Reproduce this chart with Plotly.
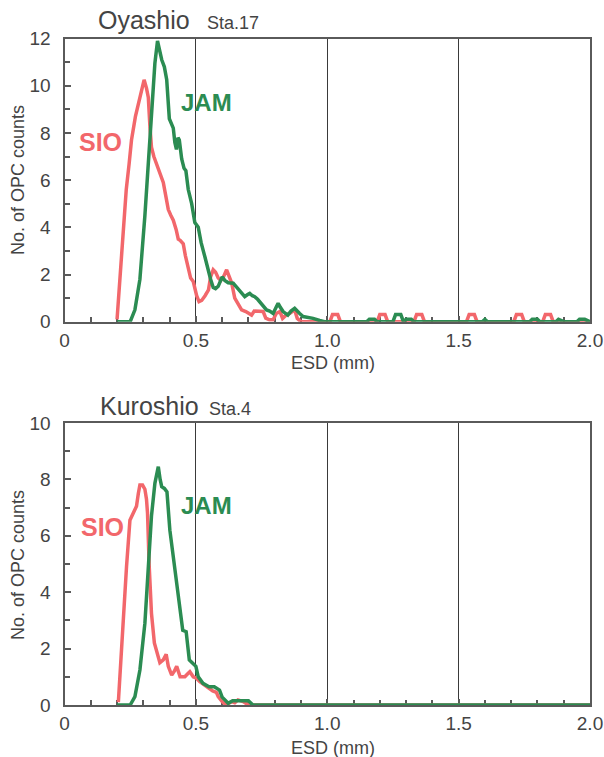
import plotly.graph_objects as go

# ---------------- data ----------------
# Oyashio Sta.17
oy_sio_x = [0.20, 0.212, 0.224, 0.235, 0.246, 0.255, 0.27, 0.287, 0.303, 0.312, 0.319, 0.325, 0.331, 0.34,
            0.35, 0.362, 0.376, 0.386, 0.395, 0.405, 0.414, 0.425, 0.433, 0.44, 0.452, 0.46, 0.471, 0.48,
            0.49, 0.503, 0.512, 0.522, 0.535, 0.548, 0.556, 0.566, 0.575, 0.585, 0.595, 0.605, 0.617,
            0.627, 0.636, 0.648, 0.66, 0.674, 0.69, 0.70, 0.712, 0.722, 0.745, 0.756, 0.766, 0.78, 0.794,
            0.806, 0.82, 0.83, 0.845, 0.857, 0.876, 0.886, 0.90, 1.01, 1.02, 1.04, 1.05, 1.19, 1.20, 1.22,
            1.23, 1.33, 1.34, 1.36, 1.37, 1.53, 1.54, 1.56, 1.57, 1.71, 1.72, 1.74, 1.75, 1.82, 1.83, 1.85,
            1.86, 2.00]
oy_sio_y = [0.1, 2.0, 3.9, 5.6, 6.7, 7.7, 8.7, 9.55, 10.25, 9.9, 9.5, 8.3, 7.4, 7.0,
            6.7, 6.3, 5.9, 5.3, 4.75, 4.5, 4.3, 3.9, 3.5, 3.45, 3.3, 2.8, 2.2, 1.85,
            1.7, 1.1, 0.85, 0.9, 1.1, 1.35, 1.9, 2.2, 2.1, 1.85, 1.75, 1.9, 2.2,
            1.9, 1.65, 1.0, 0.75, 0.5, 0.43, 0.35, 0.28, 0.45, 0.45, 0.43, 0.15, 0.08, 0.08,
            0.35, 0.43, 0.14, 0.3, 0.35, 0.5, 0.14, 0.0, 0.0, 0.3, 0.3, 0.0, 0.0, 0.3, 0.3,
            0.0, 0.0, 0.3, 0.3, 0.0, 0.0, 0.3, 0.3, 0.0, 0.0, 0.3, 0.3, 0.0, 0.0, 0.3, 0.3,
            0.0, 0.0]

oy_jam_x = [0.20, 0.25, 0.268, 0.287, 0.306, 0.319, 0.331, 0.344, 0.354, 0.362, 0.37, 0.38, 0.389, 0.399,
            0.407, 0.414, 0.42, 0.426, 0.432, 0.437, 0.446, 0.455, 0.462, 0.471, 0.484, 0.496, 0.509,
            0.52, 0.534, 0.545, 0.556, 0.566, 0.575, 0.585, 0.60, 0.61, 0.623, 0.642, 0.652, 0.661,
            0.675, 0.686, 0.697, 0.705, 0.715, 0.724, 0.735, 0.743, 0.756, 0.769, 0.781, 0.794, 0.805,
            0.813, 0.822, 0.832, 0.85, 0.862, 0.876, 0.885, 0.895, 0.908, 0.921, 0.946, 0.971, 0.99,
            1.15, 1.16, 1.18, 1.19, 1.25, 1.26, 1.28, 1.29, 1.30, 1.32, 1.33, 1.59, 1.60, 1.61, 1.77,
            1.78, 1.80, 1.81, 1.87, 1.88, 1.90, 1.95, 1.96, 1.98, 2.00]
oy_jam_y = [0.0, 0.0, 0.5, 1.8, 4.5, 6.7, 8.85, 10.95, 11.9, 11.5, 11.1, 10.8, 10.25, 8.6,
            8.4, 8.2, 7.6, 7.3, 7.8, 7.7, 6.9, 6.5, 6.4, 5.6, 5.0, 4.2, 4.0,
            3.35, 2.76, 2.2, 1.8, 1.45, 1.4, 1.5, 1.9, 1.75, 1.65, 1.63, 1.5, 1.35,
            1.2, 1.06, 1.15, 1.2, 1.1, 1.06, 0.95, 0.85, 0.7, 0.5, 0.45, 0.35, 0.6,
            0.78, 0.6, 0.43, 0.28, 0.45, 0.57, 0.45, 0.35, 0.22, 0.2, 0.14, 0.05, 0.0,
            0.0, 0.1, 0.1, 0.0, 0.0, 0.3, 0.3, 0.0, 0.1, 0.1, 0.0, 0.0, 0.1, 0.0, 0.0,
            0.1, 0.1, 0.0, 0.0, 0.1, 0.0, 0.0, 0.1, 0.1, 0.0]

# Kuroshio Sta.4
ku_sio_x = [0.205, 0.214, 0.224, 0.236, 0.249, 0.262, 0.274, 0.281, 0.287, 0.297, 0.306, 0.312, 0.316,
            0.322, 0.331, 0.342, 0.354, 0.363, 0.376, 0.387, 0.395, 0.408, 0.418, 0.427, 0.44, 0.458,
            0.468, 0.477, 0.49, 0.502, 0.515, 0.527, 0.539, 0.552, 0.564, 0.578, 0.585, 0.60, 0.615,
            0.636, 0.648, 0.66, 0.68, 0.70, 0.71, 2.00]
ku_sio_y = [0.1, 1.6, 3.1, 4.9, 6.55, 6.8, 7.05, 7.5, 7.8, 7.8, 7.65, 7.3, 6.8,
            5.0, 3.25, 2.2, 1.85, 1.5, 1.6, 1.8, 1.37, 1.06, 1.2, 1.37, 1.0, 1.0,
            1.1, 1.18, 1.0, 0.95, 0.83, 0.75, 0.65, 0.6, 0.5, 0.45, 0.3, 0.12, 0.0,
            0.12, 0.08, 0.18, 0.12, 0.0, 0.0, 0.0]

ku_jam_x = [0.20, 0.25, 0.268, 0.287, 0.306, 0.319, 0.331, 0.344, 0.357, 0.364, 0.37, 0.38, 0.39,
            0.401, 0.412, 0.425, 0.437, 0.45, 0.463, 0.475, 0.488, 0.50, 0.509, 0.527, 0.55, 0.57,
            0.59, 0.60, 0.623, 0.64, 0.70, 0.717, 2.00]
ku_jam_y = [0.0, 0.0, 0.3, 1.24, 2.9, 4.8, 6.7, 7.86, 8.45, 8.0, 7.74, 7.68, 7.56,
            6.2, 5.4, 4.45, 3.6, 2.65, 2.6, 1.6, 1.48, 1.37, 1.0, 0.77, 0.65, 0.65,
            0.53, 0.28, 0.06, 0.15, 0.15, 0.0, 0.0]

x_tickvals = [0, 0.5, 1.0, 1.5, 2.0]
x_ticktext = ["0", "0.5", "1.0", "1.5", "2.0"]
oy_ytickvals = [0, 2, 4, 6, 8, 10, 12]
ku_ytickvals = [0, 2, 4, 6, 8, 10]

# ---------------- styling ----------------
W, H = 604, 757
RED = "#f2676b"
GREEN = "#2b8c52"
GRAY = "#444444"
FRAME = "#5a5a5a"
FONT = "Liberation Sans"

def px_x(p):
    return p / W

def px_y(p):
    return 1 - p / H

fig = go.Figure()
fig.add_trace(go.Scatter(x=oy_sio_x, y=oy_sio_y, mode="lines", line=dict(color=RED, width=3.5),
                         xaxis="x", yaxis="y", cliponaxis=False, showlegend=False))
fig.add_trace(go.Scatter(x=oy_jam_x, y=oy_jam_y, mode="lines", line=dict(color=GREEN, width=3.5),
                         xaxis="x", yaxis="y", cliponaxis=False, showlegend=False))
fig.add_trace(go.Scatter(x=ku_sio_x, y=ku_sio_y, mode="lines", line=dict(color=RED, width=3.5),
                         xaxis="x2", yaxis="y2", cliponaxis=False, showlegend=False))
fig.add_trace(go.Scatter(x=ku_jam_x, y=ku_jam_y, mode="lines", line=dict(color=GREEN, width=3.5),
                         xaxis="x2", yaxis="y2", cliponaxis=False, showlegend=False))

xdom = [px_x(64.5), px_x(590)]
top_dom = [px_y(321.7), px_y(38.5)]
bot_dom = [px_y(705), px_y(423)]

def xaxis(anchor):
    return dict(domain=xdom, anchor=anchor, range=[0, 2.0], tickvals=x_tickvals, ticktext=x_ticktext,
                ticks="inside", ticklen=6, tickcolor=FRAME, tickwidth=1.5,
                minor=dict(dtick=0.1, ticks="inside", ticklen=5, tickcolor=FRAME, tickwidth=1.5, showgrid=False),
                showgrid=True, gridcolor="#3a3a3a", gridwidth=1,
                showline=True, linecolor=FRAME, linewidth=2, mirror=True, zeroline=False,
                tickfont=dict(family=FONT, size=19, color=GRAY), ticklabelstandoff=0,
                layer="below traces", fixedrange=True, automargin=False)

def yaxis(anchor, dom, rng, tv):
    return dict(domain=dom, anchor=anchor, range=rng, tickvals=tv,
                ticks="inside", ticklen=6, tickcolor=FRAME, tickwidth=1.5,
                minor=dict(dtick=1, ticks="inside", ticklen=5, tickcolor=FRAME, tickwidth=1.5, showgrid=False),
                showgrid=False, showline=True, linecolor=FRAME, linewidth=2, mirror=True, zeroline=False,
                tickfont=dict(family=FONT, size=19, color=GRAY), ticklabelstandoff=8,
                layer="below traces", fixedrange=True, automargin=False)

fig.update_layout(
    template="none",
    width=W, height=H, margin=dict(l=0, r=0, t=0, b=0, pad=0),
    paper_bgcolor="white", plot_bgcolor="white",
    xaxis=xaxis("y"), yaxis=yaxis("x", top_dom, [0, 12], oy_ytickvals),
    xaxis2=xaxis("y2"), yaxis2=yaxis("x2", bot_dom, [0, 10], ku_ytickvals),
)

def ann(text, x, y, size, color, xanchor="left", angle=0, weight="normal"):
    fig.add_annotation(text=text, x=px_x(x), y=px_y(y), xref="paper", yref="paper",
                       xanchor=xanchor, yanchor="middle", showarrow=False, textangle=angle,
                       font=dict(family=FONT, size=size, color=color, weight=weight))

# titles
ann("Oyashio", 96, 20, 25, GRAY)
ann("Sta.17", 205, 23, 18, GRAY)
ann("Kuroshio", 98, 406, 25, GRAY)
ann("Sta.4", 207, 409, 18, GRAY)
# series labels
ann("SIO", 77, 142, 25, RED, weight="bold")
ann("JAM", 179, 103, 24, GREEN, weight="bold")
ann("SIO", 79, 527, 25, RED, weight="bold")
ann("JAM", 179, 506, 24, GREEN, weight="bold")
# axis titles
ann("No. of OPC counts", 18, 180, 18, GRAY, xanchor="center", angle=-90)
ann("No. of OPC counts", 18, 565, 18, GRAY, xanchor="center", angle=-90)
ann("ESD (mm)", 333, 363, 18, GRAY, xanchor="center")
ann("ESD (mm)", 333, 748, 18, GRAY, xanchor="center")

fig.write_html("out.html", config={"displayModeBar": False},
               post_script="document.body.style.margin='0';document.body.style.overflow='hidden';")
